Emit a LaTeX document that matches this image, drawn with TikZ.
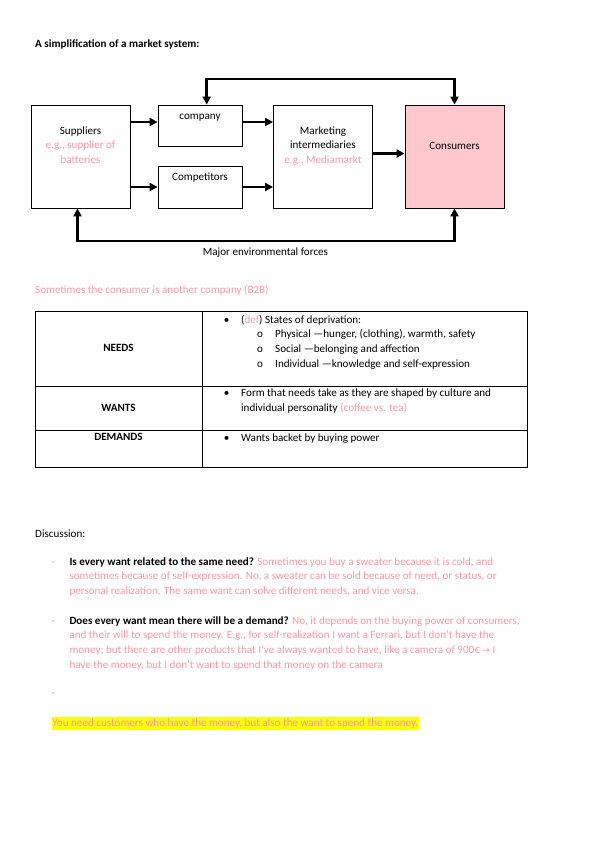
\documentclass[tikz,border=0pt]{standalone}
\usepackage{fontspec}
\setmainfont{Carlito}
\newfontfamily\symfont{DejaVu Sans}
\usetikzlibrary{arrows.meta,positioning}
\definecolor{notepink}{RGB}{255,150,165}
\definecolor{consfill}{RGB}{255,199,206}
\definecolor{hilite}{RGB}{255,255,0}
\begin{document}
\begin{tikzpicture}[x=1pt,y=-1pt,
    font=\fontsize{11.1}{14.5}\selectfont,
    box/.style={draw,line width=0.8pt,inner sep=0pt},
    flow/.style={line width=2.6pt,-{Triangle[length=8pt,width=8pt]}},
    both/.style={line width=2.6pt,{Triangle[length=8pt,width=8pt]}-{Triangle[length=8pt,width=8pt]}},
    txt/.style={inner sep=0pt,anchor=mid west},
    ctxt/.style={inner sep=0pt,anchor=mid,align=center},
    note/.style={text=notepink}]
    \fill[white] (0,0) rectangle (599,848);
    \useasboundingbox (0,0) rectangle (599,848);

    % market system
    \node[txt,font=\fontsize{11.1}{12}\bfseries] (title) at (35,45) {A simplification of a market system:};
    \node[box,minimum width=99pt,minimum height=103pt] (sup) at (80.5,156.5) {};
    \node[box,minimum width=84pt,minimum height=41pt] (co) at (200,125.5) {};
    \node[box,minimum width=84pt,minimum height=42pt] (cmp) at (200,187) {};
    \node[box,minimum width=99pt,minimum height=103pt] (mk) at (323,156.5) {};
    \node[box,fill=consfill,minimum width=99pt,minimum height=103pt] (cons) at (454.5,156.5) {};

    \node[ctxt] (supT) at (80.5,161) {Suppliers\\\textcolor{notepink}{e.g., supplier of}\\\textcolor{notepink}{batteries}};
    \node[ctxt] (coT) at (200,117) {company};
    \node[ctxt] (cmpT) at (200,178.3) {Competitors};
    \node[ctxt] (mkT) at (323,161) {Marketing\\intermediaries\\\textcolor{notepink}{e.g., Mediamarkt}};
    \node[ctxt] (consT) at (454.5,146.7) {Consumers};

    \draw[flow] ([yshift=3.5pt]sup.east |- co.west) -- ([yshift=3.5pt]co.west);
    \draw[flow] (sup.east |- cmp.west) -- (cmp.west);
    \draw[flow] ([yshift=3.5pt]co.east) -- ([yshift=3.5pt]co.east -| mk.west);
    \draw[flow] (cmp.east) -- (cmp.east -| mk.west);
    \draw[flow] ([yshift=3pt]mk.east) -- ([yshift=3pt]cons.west);

    \coordinate (topL) at (330,79);
    \coordinate (botL) at (260,241);
    \draw[both] ([xshift=6.7pt]co.north) |- (topL) -| (cons.north);
    \draw[both] ([xshift=-3pt]sup.south) |- (botL) -| (cons.south);
    \node[ctxt] (env) at (265.5,252.7) {Major environmental forces};

    % table
    \node[txt,note] (b2b) at (35,290.7) {Sometimes the consumer is another company (B2B)};
    \draw[line width=0.6pt] (35.7,311.7) rectangle (527.3,467.7);
    \draw[line width=0.6pt] (202,311.7) -- (202,467.7);
    \draw[line width=0.6pt] (35.7,386) -- (527.3,386);
    \draw[line width=0.6pt] (35.7,430.7) -- (527.3,430.7);

    \node[ctxt,font=\fontsize{11.1}{12}\bfseries] (needs) at (118.5,349) {NEEDS};
    \node[ctxt,font=\fontsize{11.1}{12}\bfseries] (wants) at (118.5,409) {WANTS};
    \node[ctxt,font=\fontsize{11.1}{12}\bfseries] (dem) at (118.5,438) {DEMANDS};

    \foreach \y/\n in {320.7/1,394/2,439/3}
        \node[ctxt] (dot\n) at (226.7,\y) {•};
    \foreach \y/\n in {335/1,350/2,365/3}
        \node[ctxt] (sub\n) at (260,\y) {o};
    \node[txt] (n1) at (241,320.7) {(\textcolor{notepink}{def}) States of deprivation:};
    \node[txt] (n2) at (275,335) {Physical —hunger, (clothing), warmth, safety};
    \node[txt] (n3) at (275,350) {Social —belonging and affection};
    \node[txt] (n4) at (275,365) {Individual —knowledge and self-expression};
    \node[txt] (w1) at (241,394) {Form that needs take as they are shaped by culture and};
    \node[txt] (w2) at (241,409.3) {individual personality \textcolor{notepink}{(coffee vs. tea)}};
    \node[txt] (d1) at (241,439) {Wants backet by buying power};

    % discussion
    \node[txt] (disc) at (35,535) {Discussion:};
    \foreach \y/\n in {562.7/1,621.7/2,694/3}
        \node[ctxt,note] (dash\n) at (53.3,\y) {-};
    \node[txt] (q1a) at (69.3,562.7) {\textbf{Is every want related to the same need?} \textcolor{notepink}{Sometimes you buy a sweater because it is cold, and}};
    \node[txt,note] (q1b) at (69.3,577.3) {sometimes because of self-expression. No, a sweater can be sold because of need, or status, or};
    \node[txt,note] (q1c) at (69.3,591.7) {personal realization. The same want can solve different needs, and vice versa.};
    \node[txt] (q2a) at (69.3,621.7) {\textbf{Does every want mean there will be a demand?} \textcolor{notepink}{No, it depends on the buying power of consumers,}};
    \node[txt,note] (q2b) at (69.3,636) {and their will to spend the money. E.g., for self-realization I want a Ferrari, but I don’t have the};
    \node[txt,note] (q2c) at (69.3,651) {money; but there are other products that I’ve always wanted to have, like a camera of 900€ {\symfont\fontsize{9}{10}\selectfont →} I};
    \node[txt,note] (q2d) at (69.3,666) {have the money, but I don’t want to spend that money on the camera};
    \node[txt,note,fill=hilite,inner ysep=1.5pt,inner xsep=0.5pt] (sum) at (51.7,724) {You need customers who have the money, but also the want to spend the money.};
\end{tikzpicture}
\end{document}
